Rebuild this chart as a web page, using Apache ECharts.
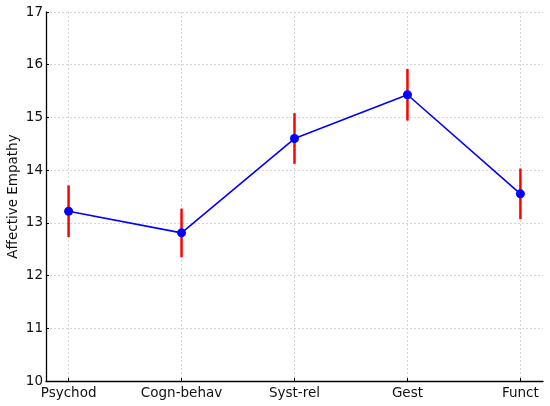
<!DOCTYPE html>
<html>
<head>
<meta charset="utf-8">
<script src="https://cdn.jsdelivr.net/npm/echarts@6/dist/echarts.min.js"></script>
<style>
    html, body { margin: 0; padding: 0; background: #fff; }
    #chart { width: 550px; height: 406px; }
</style>
</head>
<body>
<div id="chart"></div>
<script>
const categories = ['Psychod', 'Cogn-behav', 'Syst-rel', 'Gest', 'Funct'];
const means = [13.22, 12.81, 14.6, 15.43, 13.55];
const errors = [0.49, 0.46, 0.48, 0.49, 0.48];
const yTicks = [10, 11, 12, 13, 14, 15, 16, 17];

const font = 'DejaVu Sans';
const idx = categories.map((c, i) => i);

const chart = echarts.init(document.getElementById('chart'));

const option = {
    animation: false,
    grid: { left: 46, right: 7, top: 12, bottom: 25, containLabel: false, outerBoundsMode: 'none' },
    xAxis: {
        type: 'value',
        min: -0.2,
        max: 4.2,
        axisLine: { onZero: false, lineStyle: { color: '#000', width: 1.3 } },
        axisTick: { inside: true, length: 3, customValues: idx, lineStyle: { color: '#000' } },
        axisLabel: {
            customValues: idx,
            formatter: v => categories[Math.round(v)],
            color: '#111', fontFamily: font, fontSize: 13.5, margin: 5
        },
        splitLine: { show: true, lineStyle: { color: '#ccc', type: [2, 2], width: 0.8 } }
    },
    yAxis: {
        type: 'value',
        min: yTicks[0],
        max: yTicks[yTicks.length - 1],
        interval: 1,
        name: 'Affective Empathy',
        nameLocation: 'middle',
        nameGap: 26,
        nameMoveOverlap: false,
        nameTextStyle: { color: '#111', fontFamily: font, fontSize: 13.5 },
        axisLine: { show: true, onZero: false, lineStyle: { color: '#000', width: 1.3 } },
        axisTick: { show: true, inside: true, length: 3, lineStyle: { color: '#000' } },
        axisLabel: { color: '#111', fontFamily: font, fontSize: 13.5, margin: 3 },
        splitLine: { show: true, lineStyle: { color: '#ccc', type: [2, 2], width: 0.8 } }
    },
    series: [
        {
            type: 'custom',
            data: idx.map(i => [i, means[i] - errors[i], means[i] + errors[i]]),
            renderItem: (params, api) => {
                const lo = api.coord([api.value(0), api.value(1)]);
                const hi = api.coord([api.value(0), api.value(2)]);
                return {
                    type: 'line',
                    shape: { x1: lo[0], y1: lo[1], x2: hi[0], y2: hi[1] },
                    style: { stroke: '#ff0000', lineWidth: 2.5 }
                };
            },
            z: 1
        },
        {
            type: 'line',
            data: idx.map(i => [i, means[i]]),
            symbol: 'circle',
            symbolSize: 9,
            lineStyle: { color: '#0000ff', width: 1.6 },
            itemStyle: { color: '#0000ff' },
            z: 3
        }
    ]
};

chart.setOption(option);
</script>
</body>
</html>
